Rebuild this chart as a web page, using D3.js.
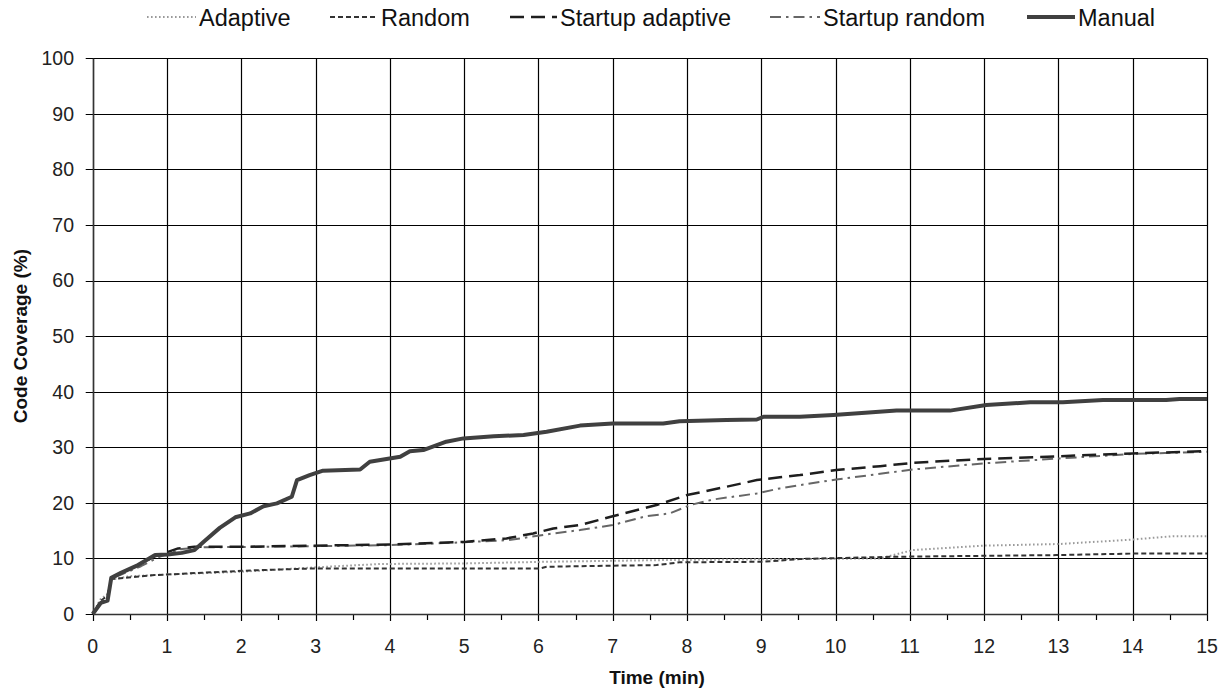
<!DOCTYPE html>
<html><head><meta charset="utf-8">
<script src="https://cdn.jsdelivr.net/npm/d3@7"></script>
<style>
html,body{margin:0;padding:0;background:#fff;}
svg{display:block;font-family:"Liberation Sans",Arial,sans-serif;}
</style></head>
<body>
<svg id="chart" width="1231" height="693"></svg>
<script>
// ---- data ----
const xTicks = d3.range(0, 16, 1);
const yTicks = d3.range(0, 101, 10);
const seriesNames = ["Adaptive", "Random", "Startup adaptive", "Startup random", "Manual"];

const adaptive = [[0,0],[0.1,2.6],[0.2,3.6],[0.25,6.2],[0.5,6.8],[1.0,7.1],[2.0,7.6],[3.0,8.4],[3.87,9.0],[5.0,9.1],[6.11,9.4],[7.68,9.7],[9.52,9.9],[10.6,10.0],[11.04,11.5],[11.99,12.3],[13.02,12.6],[14.0,13.4],[14.54,14.0],[15,14.0]];
const random = [[0,0],[0.1,2.3],[0.2,3.3],[0.25,6.3],[0.34,6.4],[0.83,7.0],[2.05,7.8],[2.97,8.2],[6.02,8.2],[6.11,8.5],[7.0,8.7],[7.59,8.8],[7.9,9.3],[9.03,9.4],[9.52,9.9],[10.77,10.3],[12.97,10.6],[14.1,10.9],[15,10.9]];
const startupAdaptive = [[0,0],[0.11,2],[0.2,2.6],[0.25,6.5],[0.38,7.4],[0.61,8.8],[0.84,10.4],[1.15,11.8],[1.37,12.1],[2.09,12.1],[2.97,12.3],[4.04,12.5],[5.03,13.0],[5.57,13.6],[5.93,14.5],[6.2,15.4],[6.56,16.0],[7.0,17.6],[7.59,19.6],[8.0,21.4],[8.53,22.9],[8.94,24.1],[9.25,24.6],[9.52,25.0],[10.01,25.9],[10.6,26.6],[11.04,27.2],[11.99,27.9],[13.02,28.4],[14.0,28.9],[15,29.3]];
const startupRandom = [[0,0],[0.11,2.2],[0.2,2.8],[0.25,6.4],[0.4,7.2],[0.65,8.6],[0.9,10.3],[1.2,11.7],[1.5,12.0],[3,12.2],[4.0,12.4],[5.0,12.9],[5.6,13.3],[6.2,14.5],[6.56,15.1],[7.0,16.0],[7.45,17.6],[7.77,18.1],[8.04,19.6],[8.35,20.6],[8.94,21.7],[9.25,22.6],[9.52,23.2],[10.01,24.2],[11.04,26.0],[11.99,27.1],[13.02,28.0],[14.0,28.8],[15,29.2]];
const manual = [[0,0],[0.11,2],[0.2,2.4],[0.25,6.5],[0.38,7.4],[0.61,8.8],[0.84,10.6],[1.01,10.7],[1.2,11.0],[1.37,11.5],[1.51,13.2],[1.71,15.5],[1.92,17.4],[2.12,18.1],[2.30,19.4],[2.48,19.9],[2.68,21.1],[2.75,24.1],[2.92,25.0],[3.10,25.8],[3.60,26.0],[3.73,27.4],[4.14,28.3],[4.27,29.3],[4.45,29.5],[4.76,31.0],[4.99,31.6],[5.4,32.0],[5.80,32.2],[6.11,32.8],[6.56,33.9],[7.0,34.3],[7.68,34.3],[7.9,34.7],[8.53,34.9],[8.94,35.0],[9.03,35.5],[9.52,35.5],[9.97,35.8],[10.4,36.2],[10.82,36.6],[11.54,36.6],[12.03,37.6],[12.62,38.1],[13.06,38.1],[13.6,38.5],[14.45,38.5],[14.63,38.7],[15,38.7]];

// ---- styles ----
const styles = {
  "Adaptive":         {data: adaptive,        color: "#9a9a9a", width: 2,   dash: "1.6,2.4"},
  "Random":           {data: random,          color: "#333333", width: 2,   dash: "5,3"},
  "Startup random":   {data: startupRandom,   color: "#666666", width: 2,   dash: "11,5,2.5,5"},
  "Startup adaptive": {data: startupAdaptive, color: "#1e1e1e", width: 2.5, dash: "14,7"},
  "Manual":           {data: manual,          color: "#404040", width: 4,   dash: null}
};
const drawOrder = ["Adaptive", "Random", "Startup random", "Startup adaptive", "Manual"];

const svg = d3.select("#chart");
const L = 92.7, R = 1207, T = 58.3, B = 614;
const x = d3.scaleLinear().domain([0, 15]).range([L, R]);
const y = d3.scaleLinear().domain([0, 100]).range([B, T]);
const px = v => Math.round(v) + 0.5;

// grid
const g = svg.append("g");
g.selectAll(".hg").data(yTicks).join("line")
  .attr("x1", L - 7).attr("x2", px(R))
  .attr("y1", d => px(y(d))).attr("y2", d => px(y(d)))
  .attr("stroke", "#000").attr("stroke-width", 1.2);
g.selectAll(".vg").data(xTicks).join("line")
  .attr("x1", d => px(x(d))).attr("x2", d => px(x(d)))
  .attr("y1", px(T)).attr("y2", B + 7)
  .attr("stroke", "#000").attr("stroke-width", 1.2);
// minor ticks
g.selectAll(".mt").data(d3.range(0.5, 15, 1)).join("line")
  .attr("x1", d => px(x(d))).attr("x2", d => px(x(d)))
  .attr("y1", B).attr("y2", B + 6)
  .attr("stroke", "#000").attr("stroke-width", 1.2);
// axis lines
g.append("line").attr("x1", px(L)).attr("x2", px(L)).attr("y1", px(T)).attr("y2", px(B))
  .attr("stroke", "#333").attr("stroke-width", 1.5);
g.append("line").attr("x1", px(L)).attr("x2", px(R)).attr("y1", px(B)).attr("y2", px(B))
  .attr("stroke", "#333").attr("stroke-width", 1.5);

// tick labels
svg.append("g").selectAll("text").data(yTicks).join("text")
  .attr("x", 74).attr("y", d => y(d)).attr("dy", "0.35em")
  .attr("text-anchor", "end").attr("font-size", 19.5).attr("fill", "#222")
  .text(d => d);
svg.append("g").selectAll("text").data(xTicks).join("text")
  .attr("x", d => x(d)).attr("y", 653)
  .attr("text-anchor", "middle").attr("font-size", 19.5).attr("fill", "#222")
  .text(d => d);

// axis titles
svg.append("text").attr("x", 657).attr("y", 684)
  .attr("text-anchor", "middle").attr("font-size", 19).attr("font-weight", "bold").attr("fill", "#111")
  .text("Time (min)");
svg.append("text").attr("transform", "translate(27," + ((T + B) / 2) + ") rotate(-90)")
  .attr("text-anchor", "middle").attr("font-size", 19).attr("font-weight", "bold").attr("fill", "#111")
  .text("Code Coverage (%)");

// series
const line = d3.line().x(d => x(d[0])).y(d => y(d[1])).curve(d3.curveLinear);
drawOrder.forEach(name => {
  const s = styles[name];
  svg.append("path").datum(s.data)
    .attr("d", line).attr("fill", "none")
    .attr("stroke", s.color).attr("stroke-width", s.width)
    .attr("stroke-dasharray", s.dash)
    .attr("stroke-linejoin", "round");
});

// legend
const legendPos = {
  "Adaptive": [147, 199],
  "Random": [330, 381],
  "Startup adaptive": [510, 560],
  "Startup random": [770, 823],
  "Manual": [1027, 1078]
};
const lg = svg.append("g");
seriesNames.forEach(name => {
  const s = styles[name];
  const [sx, tx] = legendPos[name];
  lg.append("line").attr("x1", sx).attr("x2", tx - 3).attr("y1", 17).attr("y2", 17)
    .attr("stroke", s.color).attr("stroke-width", s.width)
    .attr("stroke-dasharray", s.dash);
  lg.append("text").attr("x", tx).attr("y", 26).attr("font-size", 23.5).attr("fill", "#111")
    .text(name);
});
</script>
</body></html>
